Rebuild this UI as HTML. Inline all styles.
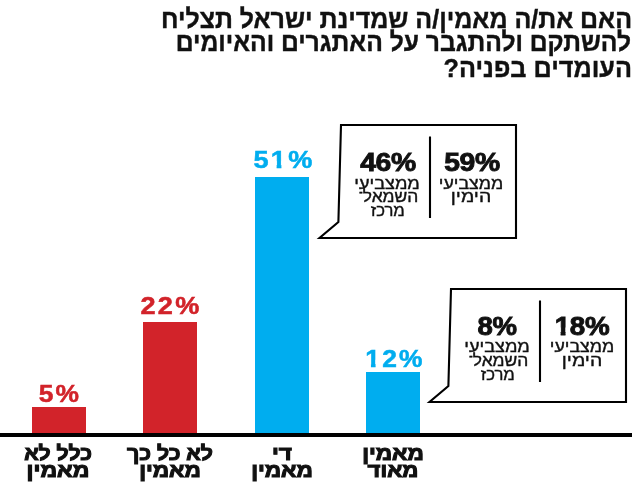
<!DOCTYPE html>
<html lang="he">
<head>
<meta charset="utf-8">
<style>
html,body{margin:0;padding:0;background:#fff;}
body{width:632px;height:491px;position:relative;overflow:hidden;font-family:"Liberation Sans","DejaVu Sans",sans-serif;color:#111;}
.abs{position:absolute;}
.tl{-webkit-text-stroke:0.4px #111;position:absolute;right:1px;width:600px;text-align:right;direction:rtl;font-weight:bold;font-size:26px;line-height:26px;white-space:nowrap;transform-origin:100% 50%;}
.bar{position:absolute;}
.red{background:#d2232a;}
.blue{background:#00adef;}
.pct{position:absolute;font-weight:bold;font-size:24px;line-height:24px;text-align:center;white-space:nowrap;letter-spacing:2px;transform:scaleX(1.1);width:100px;}
.pct.r{color:#d2232a;-webkit-text-stroke:0.5px #d2232a;}
.pct.b{color:#00adef;-webkit-text-stroke:0.5px #00adef;}
.lab{position:absolute;direction:rtl;text-align:center;font-weight:bold;font-size:19.6px;line-height:17.3px;white-space:nowrap;width:120px;-webkit-text-stroke:1.1px #111;}
.lab span{display:block;}
.one{display:inline-block;clip-path:polygon(-0.2em -0.2em,1em -0.2em,1em 0.55em,0.39em 0.55em,0.39em 1.3em,0.215em 1.3em,0.215em 0.55em,-0.2em 0.55em);}
.axis{position:absolute;left:0;top:433px;width:632px;height:4px;background:#000;}
.bt{position:absolute;text-align:center;white-space:nowrap;width:90px;}
.big{font-weight:bold;font-size:25.5px;line-height:24px;transform:scaleX(1.11);-webkit-text-stroke:0.9px #111;letter-spacing:-0.3px;}
.sm{direction:rtl;font-size:16.2px;line-height:13.7px;-webkit-text-stroke:0.4px #111;}
.sm.b2{line-height:13.95px;}
.sm span{display:block;transform:scaleX(1.12);}
.sm i{font-style:normal;display:inline-block;position:relative;top:-4.8px;margin-right:-0.6px;transform:scaleX(0.65);}
</style>
</head>
<body>
<div class="tl" style="top:5.6px;right:0px;transform:scaleX(0.96)">האם את/ה מאמין/ה שמדינת ישראל תצליח</div>
<div class="tl" style="top:29.3px;transform:scaleX(0.948)">להשתקם ולהתגבר על האתגרים והאיומים</div>
<div class="tl" style="top:54.9px;right:0px;transform:scaleX(0.97)">העומדים בפניה?</div>

<div class="bar red" style="left:31.7px;top:407.3px;width:54.1px;height:26px"></div>
<div class="bar red" style="left:143.3px;top:322.4px;width:54.1px;height:111px"></div>
<div class="bar blue" style="left:254.9px;top:177px;width:54.1px;height:256px"></div>
<div class="bar blue" style="left:366.3px;top:372px;width:54.1px;height:61px"></div>
<div class="axis"></div>

<div class="pct r" style="left:10px;top:382px">5%</div>
<div class="pct r" style="left:121.3px;top:293.7px;transform:scaleX(1.13)">22%</div>
<div class="pct b" style="left:233.5px;top:147.7px;transform:scaleX(1.13)">5<span class="one">1</span>%</div>
<div class="pct b" style="left:345.3px;top:346.5px"><span class="one">1</span>2%</div>

<div class="lab" style="left:-1.7px;top:444.5px"><span style="transform:scaleX(1.08)">כלל לא</span><span style="transform:scaleX(1.17)">מאמין</span></div>
<div class="lab" style="left:109.6px;top:444.5px"><span style="transform:scaleX(1.085)">לא כל כך</span><span style="transform:scaleX(1.15)">מאמין</span></div>
<div class="lab" style="left:222px;top:444.5px"><span style="transform:scaleX(1.15)">די</span><span style="transform:scaleX(1.15)">מאמין</span></div>
<div class="lab" style="left:333.2px;top:444.5px"><span style="transform:scaleX(1.15)">מאמין</span><span style="transform:scaleX(1.13)">מאוד</span></div>

<svg class="abs" style="left:0;top:0" width="632" height="491" viewBox="0 0 632 491">
  <path d="M341 125 H516 V238 H319.5 L338.4 222 Z" fill="#fff" stroke="#000" stroke-width="2.1" stroke-linejoin="miter"/>
  <line x1="430" y1="136.5" x2="430" y2="218" stroke="#000" stroke-width="2.1"/>
  <path d="M451 289 H626 V402 H429.5 L448.4 386 Z" fill="#fff" stroke="#000" stroke-width="2.1" stroke-linejoin="miter"/>
  <line x1="540" y1="300.5" x2="540" y2="382" stroke="#000" stroke-width="2.1"/>
</svg>

<div class="bt big" style="left:342.8px;top:149.5px">46%</div>
<div class="bt sm" style="left:342.2px;top:176.5px"><span>ממצביעי</span><span style="transform:translateX(1px) scaleX(1.075)">השמאל<i>-</i></span><span style="transform:translateX(0.8px) scaleX(1.03)">מרכז</span></div>
<div class="bt big" style="left:426.7px;top:149.5px">59%</div>
<div class="bt sm" style="left:425.8px;top:176.5px"><span style="transform:scaleX(1.1)">ממצביעי</span><span style="transform:scaleX(1.2)">הימין</span></div>

<div class="bt big" style="left:452.4px;top:313.5px;transform:scaleX(1.08)">8%</div>
<div class="bt sm b2" style="left:452px;top:340px"><span>ממצביעי</span><span style="transform:translateX(1px) scaleX(1.075)">השמאל<i>-</i></span><span style="transform:translateX(0.8px) scaleX(1.03)">מרכז</span></div>
<div class="bt big" style="left:537.2px;top:313.5px;transform:scaleX(1.09)"><span class="one">1</span>8%</div>
<div class="bt sm b2" style="left:536.8px;top:340px"><span style="transform:scaleX(1.1)">ממצביעי</span><span style="transform:scaleX(1.2)">הימין</span></div>
</body>
</html>
